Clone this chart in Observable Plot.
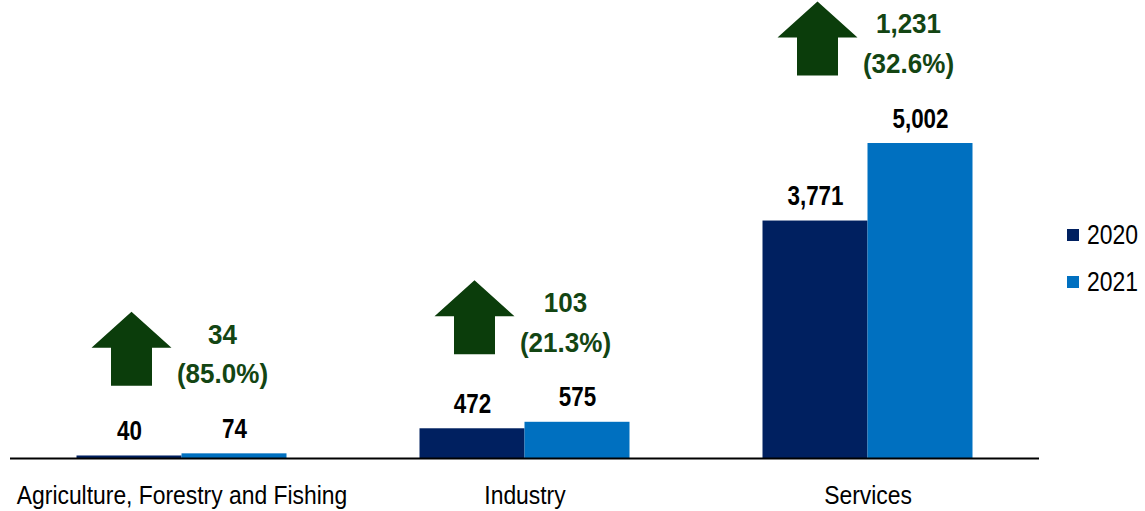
<!DOCTYPE html>
<html><head><meta charset="utf-8">
<script src="https://cdn.jsdelivr.net/npm/d3@7"></script>
<script src="https://cdn.jsdelivr.net/npm/@observablehq/plot@0.6"></script>
<style>
body{margin:0;background:#fff;}
#wrap{position:relative;width:1145px;height:511px;font-family:"Liberation Sans",Arial,sans-serif;color:#000;}
.legend{position:absolute;left:1067px;top:0;font-size:27px;}
.item{position:absolute;left:0;display:flex;align-items:center;white-space:nowrap;height:30px;}
.sw{width:12px;height:12px;margin-right:8px;flex:none;}
.lt{display:inline-block;transform:scaleX(0.85);transform-origin:left center;}
</style></head><body><div id="wrap"></div>
<script>
const categories = ["Agriculture, Forestry and Fishing", "Industry", "Services"];
const years = ["2020", "2021"];
const values2020 = [40, 472, 3771];
const values2021 = [74, 575, 5002];
const changeAbs = [34, 103, 1231];
const changePct = [85.0, 21.3, 32.6];
const yearColors = ["#002060", "#0070C0"];
const arrowColor = "#0b3d0b";
const changeTextColor = "#134513";

const fmt = d3.format(",");
const bars = categories.flatMap((c, i) => [
  {category: c, year: years[0], value: values2020[i]},
  {category: c, year: years[1], value: values2021[i]}
]);
const annots = categories.map((c, i) => ({category: c, top: values2021[i], abs: changeAbs[i], pct: changePct[i]}));

const arrowSymbol = {
  draw(ctx) {
    ctx.moveTo(0, -37);
    ctx.lineTo(40, -1);
    ctx.lineTo(20.5, -1);
    ctx.lineTo(20.5, 37);
    ctx.lineTo(-20.5, 37);
    ctx.lineTo(-20.5, -1);
    ctx.lineTo(-40, -1);
    ctx.closePath();
  }
};

const fontFamily = '"Liberation Sans",Arial,sans-serif';

const chart = Plot.plot({
  width: 1145,
  height: 511,
  marginLeft: 9.5,
  marginRight: 106.5,
  marginTop: 0,
  marginBottom: 53,
  style: {fontFamily, background: "white", color: "#000", overflow: "visible"},
  fx: {domain: categories, padding: 0, label: null, axis: null},
  x: {domain: years, paddingInner: 0, paddingOuter: 0.633, axis: null},
  y: {domain: [0, 7273], axis: null},
  color: {domain: years, range: yearColors},
  marks: [
    Plot.barY(bars, {fx: "category", x: "year", y: "value", fill: "year"}),
    Plot.ruleY([0], {stroke: "#000", strokeWidth: 2}),
    Plot.text(bars, {fx: "category", x: "year", y: "value", text: d => fmt(d.value), dy: -16, lineAnchor: "bottom", fontSize: 27, fontWeight: "bold", fill: "#000"}),
    Plot.dot(annots, {fx: "category", x: () => years[0], y: "top", dy: -105, dx: 2, symbol: arrowSymbol, r: 10, fill: arrowColor}),
    Plot.text(annots, {fx: "category", x: () => years[1], y: "top", dy: -103, dx: -12, text: d => `${fmt(d.abs)}\n(${d.pct.toFixed(1)}%)`, lineAnchor: "middle", lineHeight: 1.42, fontSize: 28, fontWeight: "bold", fill: changeTextColor}),
    Plot.text(categories, {fx: d => d, text: d => d, frameAnchor: "bottom", lineAnchor: "middle", dy: 37, fontSize: 26, fill: "#000"})
  ]
});

// narrow the glyphs horizontally (the reference uses a condensed face)
const valueStrings = new Set(bars.map(d => fmt(d.value)));
const categorySet = new Set(categories);
chart.querySelectorAll("text").forEach(t => {
  const content = t.textContent;
  const s = categorySet.has(content) ? 0.88 : valueStrings.has(content) ? 0.83 : 0.93;
  let tr = t.getAttribute("transform");
  if (!tr) {
    const x = +t.getAttribute("x") || 0, y = +t.getAttribute("y") || 0;
    t.removeAttribute("x"); t.removeAttribute("y");
    tr = `translate(${x},${y})`;
  }
  t.setAttribute("transform", `${tr} scale(${s},1)`);
});

const wrap = document.getElementById("wrap");
wrap.appendChild(chart);
const legend = document.createElement("div");
legend.className = "legend";
const legendCenters = [235, 282];
years.forEach((y, i) => {
  const it = document.createElement("div");
  it.className = "item";
  it.style.top = (legendCenters[i] - 15) + "px";
  const sw = document.createElement("span");
  sw.className = "sw";
  sw.style.background = yearColors[i];
  const tx = document.createElement("span");
  tx.className = "lt";
  tx.textContent = y;
  it.appendChild(sw); it.appendChild(tx);
  legend.appendChild(it);
});
wrap.appendChild(legend);
</script></body></html>
